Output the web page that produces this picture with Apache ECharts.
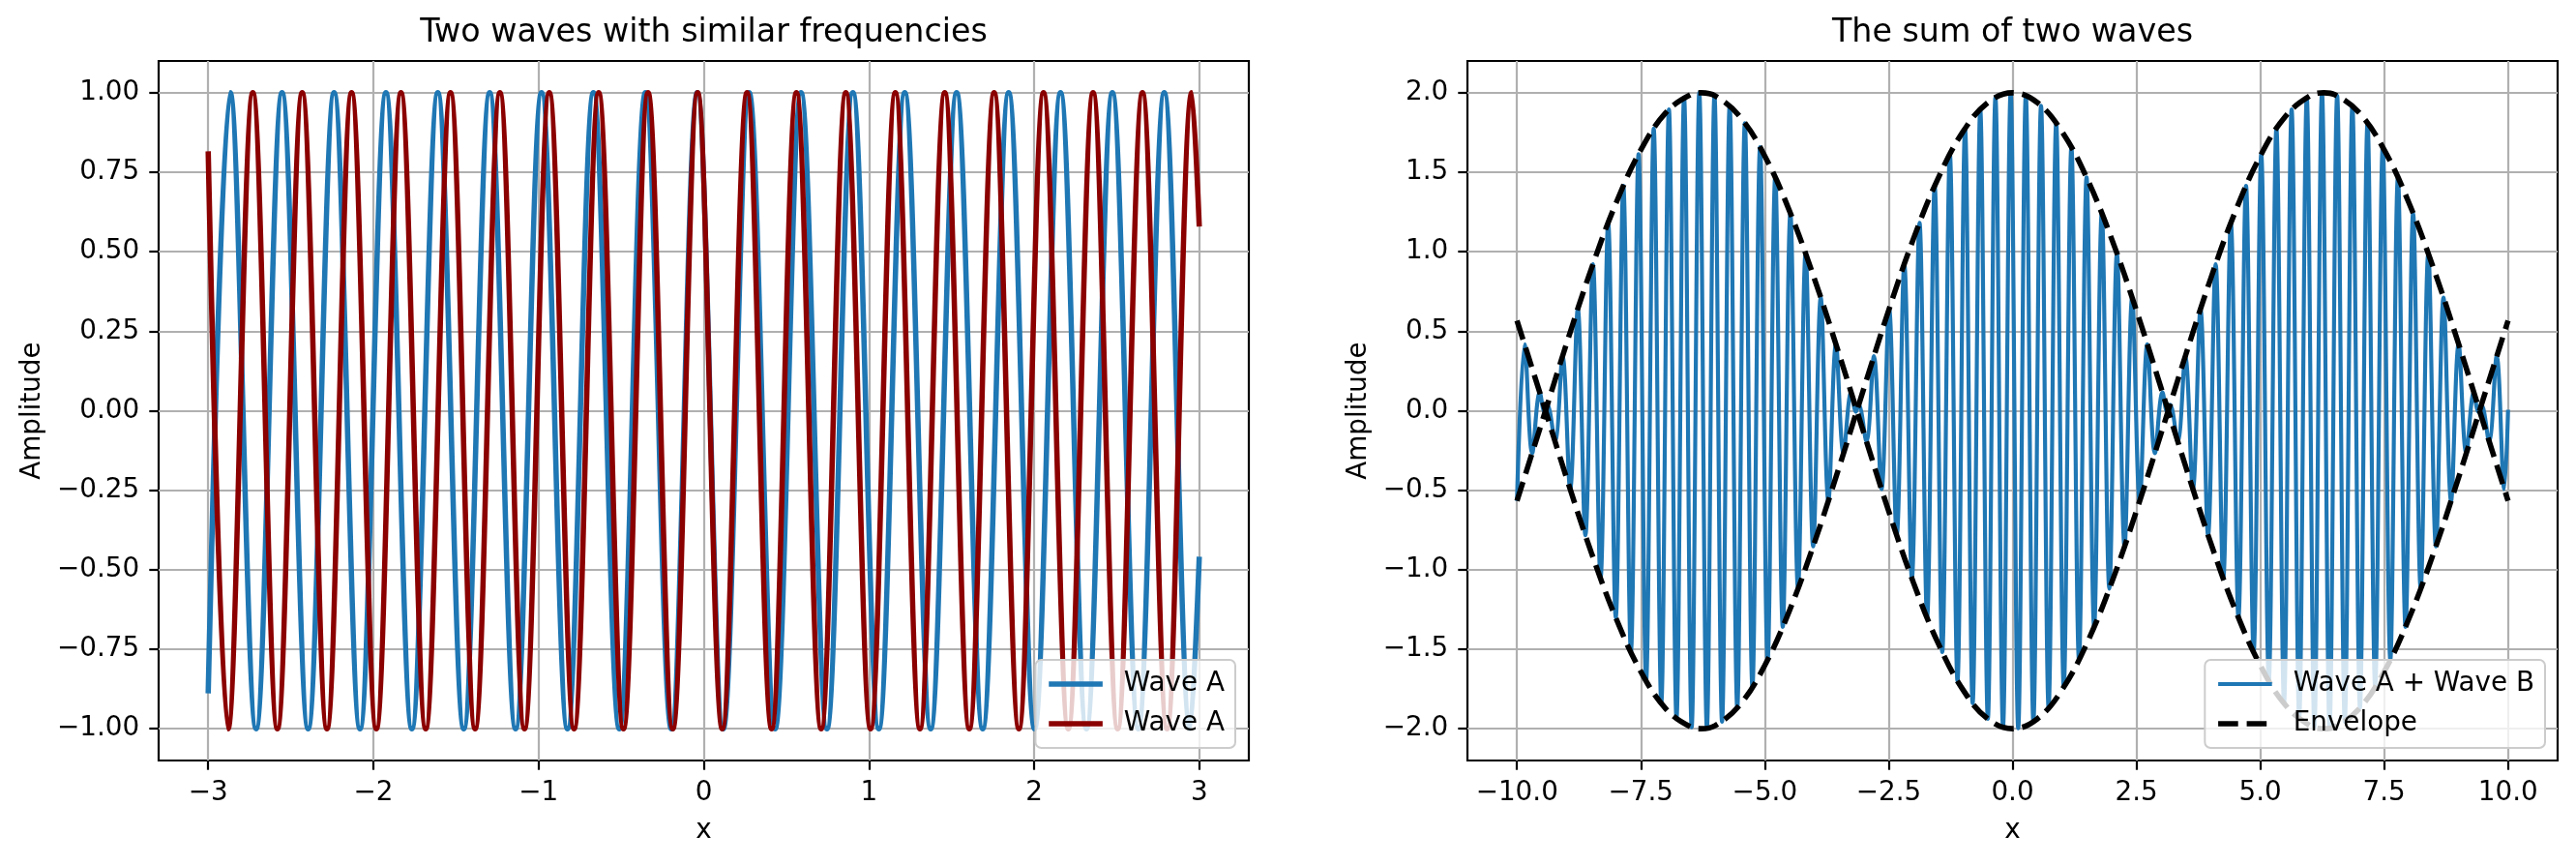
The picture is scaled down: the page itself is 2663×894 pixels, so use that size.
<!DOCTYPE html>
<html><head><meta charset="utf-8">
<script src="https://cdn.jsdelivr.net/npm/echarts@6/dist/echarts.min.js"></script>
<style>html,body{margin:0;padding:0;background:#fff}#c{width:2663px;height:894px}</style>
</head><body><div id="c"></div>
<script>
// ---------- Data ----------
// Left panel: extrema (and end points) of the two waves
const waveAX = [-3.000, -2.867, -2.710, -2.553, -2.395, -2.238, -2.081, -1.924, -1.767, -1.610,
  -1.453, -1.296, -1.139, -0.982, -0.825, -0.668, -0.511, -0.353, -0.196, -0.039,
  0.118, 0.275, 0.432, 0.589, 0.746, 0.903, 1.060, 1.217, 1.374, 1.531,
  1.689, 1.846, 2.003, 2.160, 2.317, 2.474, 2.631, 2.788, 2.945, 3.000];
const waveAY = [-0.889, 1, -1, 1, -1, 1, -1, 1, -1, 1,
  -1, 1, -1, 1, -1, 1, -1, 1, -1, 1,
  -1, 1, -1, 1, -1, 1, -1, 1, -1, 1,
  -1, 1, -1, 1, -1, 1, -1, 1, -1, -0.459];
const waveBX = [-3.000, -2.880, -2.730, -2.581, -2.431, -2.281, -2.132, -1.982, -1.833, -1.683,
  -1.533, -1.384, -1.234, -1.085, -0.935, -0.785, -0.636, -0.486, -0.337, -0.187,
  -0.037, 0.112, 0.262, 0.411, 0.561, 0.711, 0.860, 1.010, 1.160, 1.309,
  1.459, 1.608, 1.758, 1.908, 2.057, 2.207, 2.357, 2.506, 2.656, 2.805,
  2.955, 3.000];
const waveBY = [0.816, -1, 1, -1, 1, -1, 1, -1, 1, -1,
  1, -1, 1, -1, 1, -1, 1, -1, 1, -1,
  1, -1, 1, -1, 1, -1, 1, -1, 1, -1,
  1, -1, 1, -1, 1, -1, 1, -1, 1, -1,
  1, 0.579];

// Right panel: extrema of the summed wave
const sumX = [
  -10.000, -9.846, -9.693, -9.540, -9.445, -9.387, -9.233, -9.080, -8.927, -8.773,
  -8.620, -8.467, -8.314, -8.160, -8.007, -7.854, -7.701, -7.547, -7.394, -7.241,
  -7.088, -6.934, -6.781, -6.628, -6.475, -6.321, -6.168, -6.015, -5.862, -5.708,
  -5.555, -5.402, -5.249, -5.095, -4.942, -4.789, -4.636, -4.483, -4.329, -4.176,
  -4.023, -3.870, -3.716, -3.563, -3.410, -3.257, -3.160, -3.103, -2.950, -2.797,
  -2.644, -2.490, -2.337, -2.184, -2.031, -1.877, -1.724, -1.571, -1.418, -1.264,
  -1.111, -0.958, -0.805, -0.651, -0.498, -0.345, -0.192, -0.038, 0.115, 0.268,
  0.421, 0.575, 0.728, 0.881, 1.034, 1.188, 1.341, 1.494, 1.647, 1.801,
  1.954, 2.107, 2.260, 2.414, 2.567, 2.720, 2.873, 3.027, 3.120, 3.180,
  3.333, 3.486, 3.640, 3.793, 3.946, 4.099, 4.253, 4.406, 4.559, 4.712,
  4.866, 5.019, 5.172, 5.325, 5.479, 5.632, 5.785, 5.938, 6.092, 6.245,
  6.398, 6.551, 6.705, 6.858, 7.011, 7.164, 7.318, 7.471, 7.624, 7.777,
  7.931, 8.084, 8.237, 8.390, 8.544, 8.697, 8.850, 9.003, 9.157, 9.310,
  9.400, 9.463, 9.616, 9.770, 9.923, 10.000];
const sumY = [
  -0.567, 0.418, -0.267, 0.115, -0.007, 0.038, -0.191, 0.343, -0.493, 0.640,
  -0.783, 0.922, -1.055, 1.182, -1.302, 1.414, -1.518, 1.613, -1.699, 1.775,
  -1.840, 1.895, -1.938, 1.970, -1.991, 2.000, -1.997, 1.982, -1.956, 1.918,
  -1.869, 1.809, -1.738, 1.658, -1.567, 1.467, -1.359, 1.243, -1.119, 0.989,
  -0.853, 0.712, -0.567, 0.418, -0.267, 0.115, -0.007, 0.038, -0.191, 0.343,
  -0.493, 0.640, -0.783, 0.922, -1.055, 1.182, -1.302, 1.414, -1.518, 1.613,
  -1.699, 1.775, -1.840, 1.895, -1.938, 1.970, -1.991, 2.000, -1.997, 1.982,
  -1.956, 1.918, -1.869, 1.809, -1.738, 1.658, -1.567, 1.467, -1.359, 1.243,
  -1.119, 0.989, -0.853, 0.712, -0.567, 0.418, -0.267, 0.115, -0.007, 0.038,
  -0.191, 0.343, -0.493, 0.640, -0.783, 0.922, -1.055, 1.182, -1.302, 1.414,
  -1.518, 1.613, -1.699, 1.775, -1.840, 1.895, -1.938, 1.970, -1.991, 2.000,
  -1.997, 1.982, -1.956, 1.918, -1.869, 1.809, -1.738, 1.658, -1.567, 1.467,
  -1.359, 1.243, -1.119, 0.989, -0.853, 0.712, -0.567, 0.418, -0.267, 0.115,
  -0.007, 0.038, -0.191, 0.343, -0.493, 0.006];

// Right panel: envelope curves
const envX = [-10, -9.5, -9, -8.5, -8, -7.5, -7, -6.5, -6.283, -6, -5.5, -5, -4.5, -4, -3.5, -3, -2.5, -2, -1.5, -1, -0.5,
  0, 0.5, 1, 1.5, 2, 2.5, 3, 3.5, 4, 4.5, 5, 5.5, 6, 6.283, 6.5, 7, 7.5, 8, 8.5, 9, 9.5, 10];
const envUpperY = [0.567, 0.075, -0.422, -0.892, -1.307, -1.641, -1.873, -1.988, -2.000, -1.980, -1.849, -1.602, -1.256, -0.832, -0.356, 0.141, 0.631, 1.081, 1.463, 1.755, 1.938,
  2.000, 1.938, 1.755, 1.463, 1.081, 0.631, 0.141, -0.356, -0.832, -1.256, -1.602, -1.849, -1.980, -2.000, -1.988, -1.873, -1.641, -1.307, -0.892, -0.422, 0.075, 0.567];
const envLowerY = [-0.567, -0.075, 0.422, 0.892, 1.307, 1.641, 1.873, 1.988, 2.000, 1.980, 1.849, 1.602, 1.256, 0.832, 0.356, -0.141, -0.631, -1.081, -1.463, -1.755, -1.938,
  -2.000, -1.938, -1.755, -1.463, -1.081, -0.631, -0.141, 0.356, 0.832, 1.256, 1.602, 1.849, 1.980, 2.000, 1.988, 1.873, 1.641, 1.307, 0.892, 0.422, -0.075, -0.567];

// Tick labels
const leftXTicks = [-3, -2, -1, 0, 1, 2, 3];
const leftYTicks = [-1, -0.75, -0.5, -0.25, 0, 0.25, 0.5, 0.75, 1];
const rightXTicks = [-10, -7.5, -5, -2.5, 0, 2.5, 5, 7.5, 10];
const rightYTicks = [-2, -1.5, -1, -0.5, 0, 0.5, 1, 1.5, 2];

const titles = ['Two waves with similar frequencies', 'The sum of two waves'];
const seriesLabels = {waveA: 'Wave A', waveB: 'Wave A', sum: 'Wave A + Wave B', envelope: 'Envelope'};

// ---------- Chart ----------
const FONT = 'DejaVu Sans';
const chart = echarts.init(document.getElementById('c'), null, {renderer: 'canvas', width: 2663, height: 894});
function pairs(xs, ys) { return xs.map((x, i) => [x, ys[i]]); }
function fmt(d) { return v => (v < 0 ? '\u2212' : '') + Math.abs(v).toFixed(d); }

function axis(gridIndex, range, ticks, decimals, name, gap) {
  return {
    type: 'value', gridIndex: gridIndex, min: range[0], max: range[1],
    name: name, nameLocation: 'middle', nameGap: gap,
    nameTextStyle: {fontSize: 27.8, color: '#000', fontFamily: FONT},
    axisLine: {show: false, onZero: false},
    axisTick: {show: true, length: 9.7, inside: false, customValues: ticks, lineStyle: {color: '#000', width: 2.2}},
    axisLabel: {customValues: ticks, formatter: fmt(decimals), margin: 19.8, fontSize: 27.8, color: '#000', fontFamily: FONT},
    splitLine: {show: true, lineStyle: {color: '#b0b0b0', width: 2.2}}
  };
}

function legend(names, right) {
  return {
    data: names, formatter: n => seriesLabels[n], orient: 'vertical', align: 'left',
    right: right, bottom: 121, itemWidth: 55.6, itemHeight: 28, itemGap: 13, padding: 11,
    backgroundColor: 'rgba(255,255,255,0.8)', borderColor: '#cccccc', borderWidth: 2, borderRadius: 6,
    selectedMode: false,
    itemStyle: {color: 'rgba(0,0,0,0)', borderColor: 'rgba(0,0,0,0)', borderWidth: 0, opacity: 0},
    lineStyle: {width: 'inherit', type: 'inherit', color: 'inherit', opacity: 1},
    textStyle: {fontSize: 27.8, color: '#000', fontFamily: FONT, padding: [0, 0, 0, 17]}
  };
}

const gridBase = {top: 63, width: 1127, height: 723, show: true, borderColor: '#000', borderWidth: 2.2,
  backgroundColor: 'rgba(0,0,0,0)', containLabel: false, outerBoundsMode: 'none'};

chart.setOption({
  animation: false,
  backgroundColor: '#ffffff',
  textStyle: {fontFamily: FONT},
  title: [
    {text: titles[0], left: 727.5, top: 17.5, textAlign: 'center', padding: 0,
      textStyle: {fontSize: 33.3, fontWeight: 'normal', color: '#000', fontFamily: FONT}},
    {text: titles[1], left: 2080.5, top: 17.5, textAlign: 'center', padding: 0,
      textStyle: {fontSize: 33.3, fontWeight: 'normal', color: '#000', fontFamily: FONT}}
  ],
  grid: [Object.assign({left: 164}, gridBase), Object.assign({left: 1517}, gridBase)],
  xAxis: [axis(0, [-3.3, 3.3], leftXTicks, 0, 'x', 59), axis(1, [-11, 11], rightXTicks, 1, 'x', 59)],
  yAxis: [axis(0, [-1.1, 1.1], leftYTicks, 2, 'Amplitude', 116), axis(1, [-2.2, 2.2], rightYTicks, 1, 'Amplitude', 98)],
  legend: [legend(['waveA', 'waveB'], 1386), legend(['sum', 'envelope'], 32)],
  series: [
    {name: 'waveA', type: 'line', xAxisIndex: 0, yAxisIndex: 0, data: pairs(waveAX, waveAY), smooth: 0.37,
      symbol: 'none', color: '#1f77b4', lineStyle: {color: '#1f77b4', width: 5.56}, z: 2, silent: true},
    {name: 'waveB', type: 'line', xAxisIndex: 0, yAxisIndex: 0, data: pairs(waveBX, waveBY), smooth: 0.37,
      symbol: 'none', color: '#8b0000', lineStyle: {color: '#8b0000', width: 5.56}, z: 2, silent: true},
    {name: 'sum', type: 'line', xAxisIndex: 1, yAxisIndex: 1, data: pairs(sumX, sumY), smooth: 0.37,
      symbol: 'none', color: '#1f77b4', lineStyle: {color: '#1f77b4', width: 4.17}, z: 2, silent: true},
    {name: 'envelope', type: 'line', xAxisIndex: 1, yAxisIndex: 1, data: pairs(envX, envUpperY), smooth: 0.4,
      symbol: 'none', color: '#000', lineStyle: {color: '#000', width: 5.56, type: [20.6, 8.9]}, z: 3, silent: true},
    {name: 'envelopeLower', type: 'line', xAxisIndex: 1, yAxisIndex: 1, data: pairs(envX, envLowerY), smooth: 0.4,
      symbol: 'none', color: '#000', lineStyle: {color: '#000', width: 5.56, type: [20.6, 8.9]}, z: 3, silent: true}
  ]
});
</script></body></html>
